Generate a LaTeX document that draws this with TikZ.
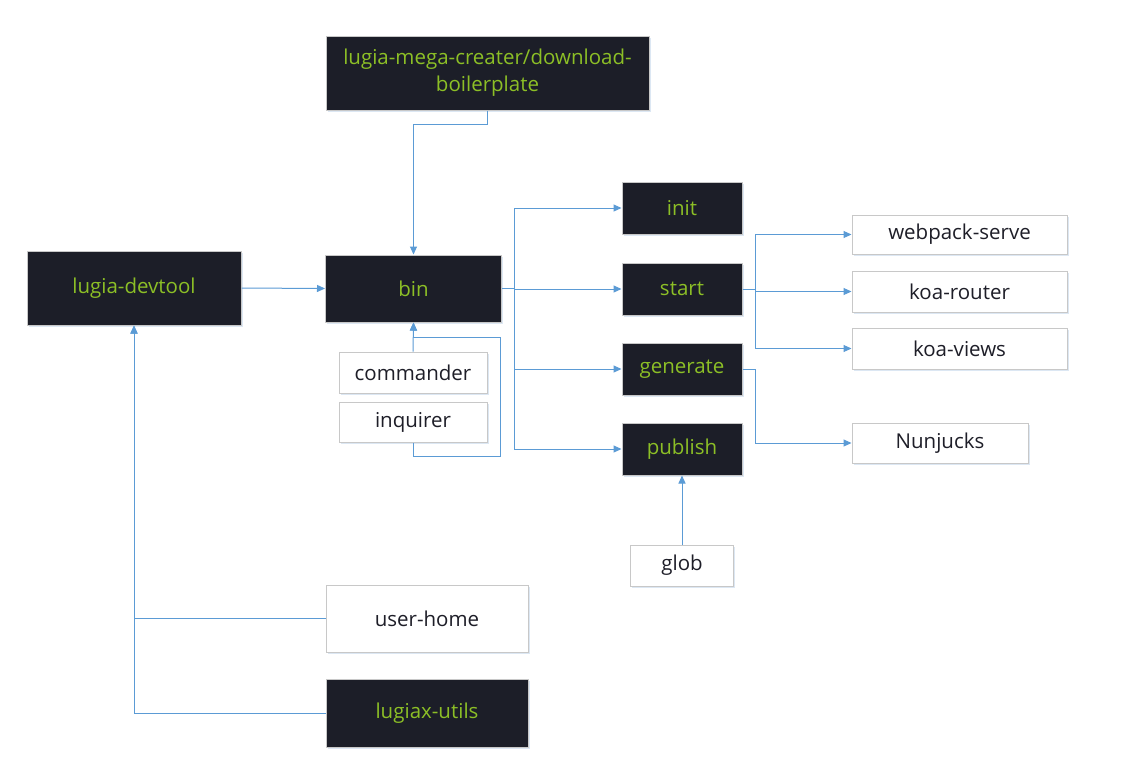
\documentclass[tikz,border=0pt]{standalone}
\usepackage{fontspec}
\setmainfont{Open Sans}
\usetikzlibrary{arrows.meta,shadows}
\definecolor{darkbox}{HTML}{1C1E28}
\definecolor{greentext}{HTML}{8CBF26}
\definecolor{linkblue}{HTML}{5B9BD5}
\definecolor{boxborder}{HTML}{C8C8C8}
\definecolor{shadowblue}{HTML}{DCE7F3}
\definecolor{darktext}{HTML}{1E1E28}
\begin{document}
\begin{tikzpicture}[x=1pt,y=-1pt,
  base/.style={rectangle,draw=boxborder,line width=1pt,inner sep=0pt,
    font=\fontsize{20.5}{27}\selectfont,
    drop shadow={shadow xshift=1.5pt,shadow yshift=-2pt,fill=shadowblue,opacity=1}},
  darkb/.style={base,fill=darkbox,text=greentext},
  lightb/.style={base,fill=white,text=darktext},
  arr/.style={draw=linkblue,line width=1pt,-{Triangle[length=8pt,width=7pt]}},
  ln/.style={draw=linkblue,line width=1pt}]
\useasboundingbox (0,0) rectangle (1126,777);
\fill[white] (0,0) rectangle (1126,777);

\node[darkb,minimum width=323pt,minimum height=74pt,align=center] (mega) at (487.5,73) {lugia-mega-creater/download-\\boilerplate};
\node[darkb,minimum width=176pt,minimum height=67pt] (bin) at (413.5,288.5) {bin};
\node[darkb,minimum width=214pt,minimum height=74pt] (devtool) at (134,288) {lugia-devtool};
\node[lightb,minimum width=148pt,minimum height=41pt] (commander) at (413,372.5) {commander};
\node[lightb,minimum width=148pt,minimum height=40pt] (inquirer) at (413,422) {inquirer};
\node[darkb,minimum width=120pt,minimum height=52pt] (init) at (682,208) {init};
\node[darkb,minimum width=120pt,minimum height=52pt] (start) at (682,289) {start};
\node[darkb,minimum width=120pt,minimum height=52pt] (generate) at (682,369) {generate};
\node[darkb,minimum width=120pt,minimum height=52pt] (publish) at (682,449) {publish};
\node[lightb,minimum width=215pt,minimum height=39pt] (webpack) at (959.5,234.5) {webpack-serve};
\node[lightb,minimum width=215pt,minimum height=41pt] (router) at (959.5,291.5) {koa-router};
\node[lightb,minimum width=215pt,minimum height=41pt] (views) at (959.5,348.5) {koa-views};
\node[lightb,minimum width=176pt,minimum height=40pt] (nunjucks) at (940,443) {Nunjucks};
\node[lightb,minimum width=103pt,minimum height=41pt] (glob) at (682,565.5) {glob};
\node[lightb,minimum width=202pt,minimum height=67pt] (userhome) at (427,618.5) {user-home};
\node[darkb,minimum width=202pt,minimum height=68pt] (lugiax) at (427,713) {lugiax-utils};

\coordinate (iqA) at (500,456);
\coordinate (iqB) at (413.5,337);

\draw[arr] (mega.south) -- ++(0,14) -| (bin.north);
\draw[arr] (devtool.east) -- (bin.west);
\draw[arr] (commander.north) -- (bin.south);
\draw[arr] (inquirer.south) |- (iqA) |- (iqB) -- (bin.south);
\draw[arr] (bin.east) -- ++(12.5,0) |- (init.west);
\draw[arr] (bin.east) -- ++(12.5,0) |- (start.west);
\draw[arr] (bin.east) -- ++(12.5,0) |- (generate.west);
\draw[arr] (bin.east) -- ++(12.5,0) |- (publish.west);
\draw[arr] (start.east) -- ++(13,0) |- (webpack.west);
\draw[arr] (start.east) -- ++(13,0) |- (router.west);
\draw[arr] (start.east) -- ++(13,0) |- (views.west);
\draw[arr] (generate.east) -- ++(13,0) |- (nunjucks.west);
\draw[arr] (glob.north) -- (publish.south);
\draw[arr] (userhome.west) -| (devtool.south);
\draw[arr] (lugiax.west) -| (devtool.south);
\end{tikzpicture}
\end{document}
